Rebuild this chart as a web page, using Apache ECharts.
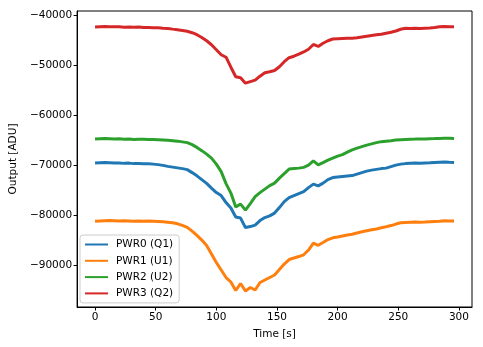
<!DOCTYPE html>
<html>
<head>
<meta charset="utf-8">
<script src="https://cdn.jsdelivr.net/npm/echarts@6/dist/echarts.min.js"></script>
<style>html,body{margin:0;padding:0;background:#fff}#c{width:483px;height:347px}</style>
</head>
<body>
<div id="c"></div>
<script>
const times = [0,4,8,12,16,20,24,28,32,36,40,44,48,52,56,60,64,68,72,76,80,84,88,92,96,100,104,108,112,116,120,124,128,132,136,140,144,148,152,156,160,164,168,172,176,180,184,188,192,196,200,204,208,212,216,220,224,228,232,236,240,244,248,252,256,260,264,268,272,276,280,284,288,292,296];

const pwr0 = [-69600,-69550,-69500,-69550,-69600,-69580,-69650,-69600,-69700,-69680,-69750,-69720,-69800,-69900,-70050,-70250,-70400,-70550,-70700,-70900,-71500,-72150,-72900,-73650,-74600,-75500,-76100,-77500,-78600,-80400,-80600,-82500,-82300,-82000,-81100,-80500,-80150,-79600,-78500,-77300,-76500,-76100,-75700,-75300,-74500,-73800,-74150,-73600,-72900,-72500,-72400,-72300,-72200,-72100,-71800,-71500,-71200,-71000,-70850,-70700,-70600,-70300,-70000,-69800,-69700,-69650,-69600,-69620,-69580,-69550,-69500,-69450,-69400,-69450,-69470];

const pwr1 = [-81250,-81200,-81150,-81100,-81150,-81200,-81150,-81200,-81250,-81200,-81250,-81200,-81250,-81300,-81350,-81450,-81550,-81750,-82050,-82450,-83200,-84050,-85000,-86100,-87800,-89500,-91000,-92500,-93400,-95100,-93700,-95200,-94500,-95000,-93500,-93000,-92500,-92000,-90900,-89800,-88900,-88600,-88300,-87950,-87000,-85600,-86050,-85500,-84900,-84550,-84400,-84200,-84000,-83850,-83600,-83350,-83150,-82950,-82800,-82550,-82350,-82100,-81800,-81550,-81500,-81450,-81400,-81420,-81400,-81350,-81300,-81250,-81150,-81200,-81200];

const pwr2 = [-64750,-64700,-64650,-64700,-64750,-64720,-64800,-64760,-64850,-64800,-64830,-64880,-64850,-64900,-64950,-65000,-65100,-65200,-65350,-65500,-65900,-66450,-67100,-67800,-68600,-69800,-71300,-73700,-75600,-78400,-77800,-79000,-77700,-76300,-75500,-74800,-74100,-73600,-72600,-71700,-70800,-70700,-70600,-70450,-70000,-69150,-69950,-69500,-69000,-68600,-68200,-67900,-67400,-66950,-66600,-66300,-66000,-65750,-65500,-65300,-65200,-65100,-64980,-64900,-64850,-64800,-64780,-64750,-64760,-64700,-64680,-64650,-64600,-64620,-64650];

const pwr3 = [-42350,-42300,-42250,-42280,-42320,-42300,-42380,-42340,-42400,-42370,-42450,-42430,-42500,-42520,-42600,-42650,-42780,-42900,-43050,-43200,-43500,-43900,-44450,-45100,-45900,-46900,-47900,-48400,-50400,-52300,-52500,-53600,-53300,-53000,-52200,-51500,-51300,-51050,-50300,-49300,-48500,-48200,-47800,-47350,-46800,-45850,-46250,-45600,-45100,-44750,-44700,-44650,-44600,-44600,-44500,-44350,-44200,-44050,-43900,-43800,-43600,-43400,-43150,-42800,-42600,-42650,-42600,-42650,-42600,-42550,-42450,-42300,-42250,-42300,-42280];

const seriesNames = ['PWR0 (Q1)','PWR1 (U1)','PWR2 (U2)','PWR3 (Q2)'];
const seriesColors = ['#1f77b4','#ff7f0e','#2ca02c','#d62728'];
const seriesValues = [pwr0, pwr1, pwr2, pwr3];
const xTicks = [0,50,100,150,200,250,300];
const yTicks = [-90000,-80000,-70000,-60000,-50000,-40000];

const fmt = v => String(v).replace('-', '\u2212');
const FONT = 'DejaVu Sans';
const FS = 10.5;

const chart = echarts.init(document.getElementById('c'), null, {renderer:'canvas'});
chart.setOption({
  animation: false,
  backgroundColor: '#fff',
  grid: {left: 75, right: 11, top: 11, bottom: 40, show: true, borderColor: '#000', borderWidth: 1, backgroundColor: 'transparent'},
  xAxis: {
    type: 'value', min: -14.8, max: 310.8,
    name: 'Time [s]', nameLocation: 'middle', nameGap: 22,
    nameTextStyle: {fontFamily: FONT, fontSize: FS, color: '#000'},
    axisLine: {show: true, onZero: false, lineStyle: {color: '#000', width: 1}},
    axisTick: {show: true, length: 3.5, lineStyle: {color: '#000'}, customValues: xTicks},
    axisLabel: {fontFamily: FONT, fontSize: FS, color: '#000', margin: 5, customValues: xTicks, formatter: fmt},
    splitLine: {show: false}
  },
  yAxis: {
    type: 'value', min: -98400, max: -39150,
    name: 'Output [ADU]', nameLocation: 'middle', nameGap: 57, nameRotate: 90,
    nameTextStyle: {fontFamily: FONT, fontSize: FS, color: '#000'},
    axisLine: {show: true, onZero: false, lineStyle: {color: '#000', width: 1}},
    axisTick: {show: true, length: 3.5, lineStyle: {color: '#000'}, customValues: yTicks},
    axisLabel: {fontFamily: FONT, fontSize: FS, color: '#000', margin: 5, customValues: yTicks, formatter: fmt},
    splitLine: {show: false}
  },
  legend: {
    orient: 'vertical', left: 80, top: 235,
    padding: [4, 6, 4, 4],
    itemWidth: 23, itemHeight: 10, itemGap: 5.3,
    itemStyle: {opacity: 0, borderWidth: 0},
    lineStyle: {width: 2},
    backgroundColor: 'rgba(255,255,255,0.8)', borderColor: '#cccccc', borderWidth: 1, borderRadius: 3,
    textStyle: {fontFamily: FONT, fontSize: FS, color: '#000', padding: [0,0,0,3]},
    data: seriesNames
  },
  series: seriesNames.map((n, i) => ({
    name: n, type: 'line', symbol: 'none', showSymbol: false,
    data: times.map((t, j) => [t, seriesValues[i][j]]),
    lineStyle: {color: seriesColors[i], width: 3},
    itemStyle: {color: seriesColors[i]},
    z: 2 + i
  }))
});
</script>
</body>
</html>
